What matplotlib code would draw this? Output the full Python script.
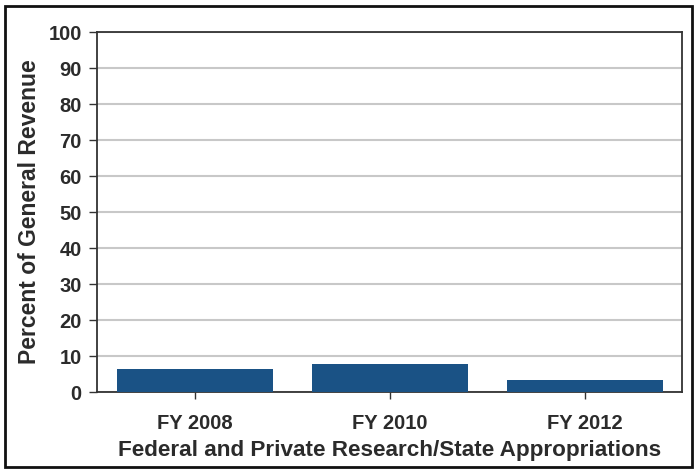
import numpy as np
import matplotlib
matplotlib.use("Agg")
import matplotlib.pyplot as plt
from matplotlib.patches import Rectangle

# values
categories = ["FY 2008", "FY 2010", "FY 2012"]
percent = [6.3, 7.8, 3.4]
yticks = [0, 10, 20, 30, 40, 50, 60, 70, 80, 90, 100]
xlabel = "Federal and Private Research/State Appropriations"
ylabel = "Percent of General Revenue"

plt.rcParams['font.family'] = ['Liberation Sans', 'DejaVu Sans']
txt = '#2b2b2b'

fig = plt.figure(figsize=(7.0, 4.74), dpi=100)
fig.patch.set_facecolor('white')
ax = fig.add_axes([97/700, 82/474, 585/700, 360/474])

x = np.arange(len(categories))
ax.bar(x, percent, width=0.8, color='#1a5285', zorder=3)

ax.set_xlim(-0.5, len(categories) - 0.5)
ax.set_ylim(0, 100)
ax.set_yticks(yticks)
ax.set_xticks(x)
ax.set_xticklabels(categories)
ax.grid(True, axis='y', color='#c8c8c8', linewidth=1.5, zorder=0)

for s in ax.spines.values():
  s.set_color('#333333')
  s.set_linewidth(1.3)

ax.tick_params(axis='y', length=6, width=1, color='#333333', pad=5,
               labelsize=14.5, labelcolor=txt)
ax.tick_params(axis='x', length=5, width=1, color='#333333', pad=11,
               labelsize=14.5, labelcolor=txt)
for lab in ax.get_xticklabels() + ax.get_yticklabels():
  lab.set_fontweight('bold')

ax.set_xlabel(xlabel, fontsize=16.2, fontweight='bold', color=txt, labelpad=5)
ax.set_ylabel(ylabel, fontsize=16.5, fontweight='bold', color=txt, labelpad=5)

# outer frame round the whole picture
fig.patches.append(Rectangle((5/700, 7/474), 687/700, 461/474,
                             transform=fig.transFigure, fill=False,
                             edgecolor='#111111', linewidth=2))

fig.savefig('out.png', dpi=100, facecolor='white')
